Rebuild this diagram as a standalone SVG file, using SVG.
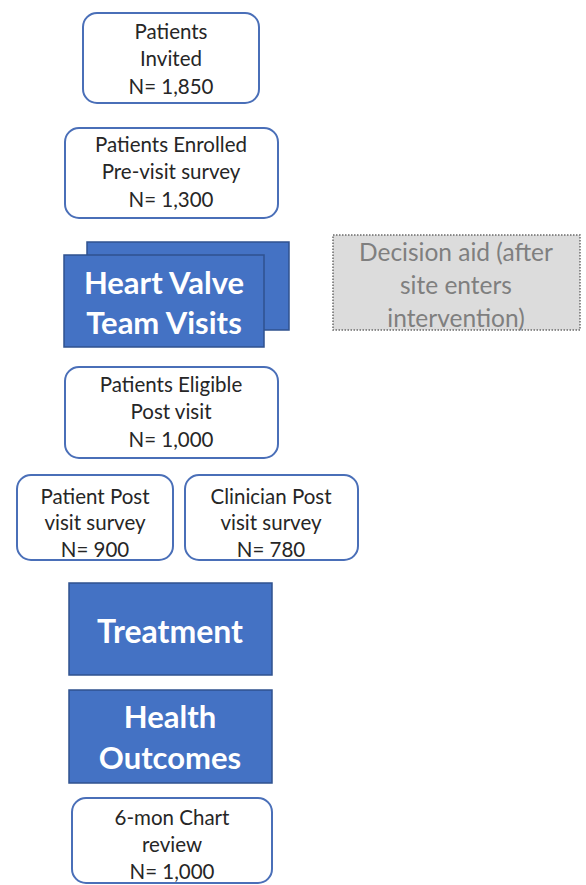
<svg xmlns="http://www.w3.org/2000/svg" width="586" height="885" viewBox="0 0 586 885">
<style>
.box{fill:#fff;stroke:#4a6fb8;stroke-width:2}
.blue{fill:#4472c4;stroke:#2f528f;stroke-width:1.5}
.t{font-family:Lato,"Open Sans","Liberation Sans",sans-serif;font-size:20.5px;fill:#262626;text-anchor:middle}
.w{font-family:Lato,"Open Sans","Liberation Sans",sans-serif;font-weight:bold;fill:#fff;text-anchor:middle}
.g{font-family:Lato,"Open Sans","Liberation Sans",sans-serif;font-size:24.5px;fill:#7f7f7f;text-anchor:middle}
</style>
<rect width="586" height="885" fill="#fff"/>
<g id="invited">
<rect class="box" x="83" y="13" width="176" height="90" rx="14"/>
<text class="t" x="171" y="39">Patients</text>
<text class="t" x="171" y="66">Invited</text>
<text class="t" x="171" y="94">N= 1,850</text>
</g>
<g id="enrolled">
<rect class="box" x="65" y="128" width="213" height="90" rx="14"/>
<text class="t" x="171" y="152">Patients Enrolled</text>
<text class="t" x="171" y="179">Pre-visit survey</text>
<text class="t" x="171" y="207">N= 1,300</text>
</g>
<g id="visits">
<rect class="blue" x="87" y="242" width="202" height="88"/>
<rect class="blue" x="64" y="255" width="200" height="92"/>
<text class="w" x="164" y="294" font-size="31">Heart Valve</text>
<text class="w" x="164" y="334" font-size="31">Team Visits</text>
</g>
<g id="decision-aid">
<rect x="333" y="235" width="247" height="95" fill="#dcdcdc" stroke="#6b6b6b" stroke-width="1.5" stroke-dasharray="1.5 1.5"/>
<text class="g" x="456" y="261">Decision aid (after</text>
<text class="g" x="456" y="294">site enters</text>
<text class="g" x="456" y="327">intervention)</text>
</g>
<g id="eligible">
<rect class="box" x="65" y="367" width="213" height="91" rx="14"/>
<text class="t" x="171" y="392">Patients Eligible</text>
<text class="t" x="171" y="419">Post visit</text>
<text class="t" x="171" y="447">N= 1,000</text>
</g>
<g id="patient-survey">
<rect class="box" x="17" y="475" width="156" height="85" rx="14"/>
<text class="t" x="95" y="504">Patient Post</text>
<text class="t" x="95" y="530">visit survey</text>
<text class="t" x="95" y="557">N= 900</text>
</g>
<g id="clinician-survey">
<rect class="box" x="185" y="475" width="173" height="85" rx="14"/>
<text class="t" x="271" y="504">Clinician Post</text>
<text class="t" x="271" y="530">visit survey</text>
<text class="t" x="271" y="557">N= 780</text>
</g>
<g id="treatment">
<rect class="blue" x="69" y="583" width="203" height="92"/>
<text class="w" x="170" y="643" font-size="32">Treatment</text>
</g>
<g id="outcomes">
<rect class="blue" x="69" y="690" width="203" height="93"/>
<text class="w" x="170" y="728" font-size="31">Health</text>
<text class="w" x="170" y="769" font-size="31">Outcomes</text>
</g>
<g id="chart-review">
<rect class="box" x="72" y="798" width="200" height="85" rx="14"/>
<text class="t" x="172" y="825">6-mon Chart</text>
<text class="t" x="172" y="852">review</text>
<text class="t" x="172" y="879">N= 1,000</text>
</g>
<g id="connectors"/>
</svg>
